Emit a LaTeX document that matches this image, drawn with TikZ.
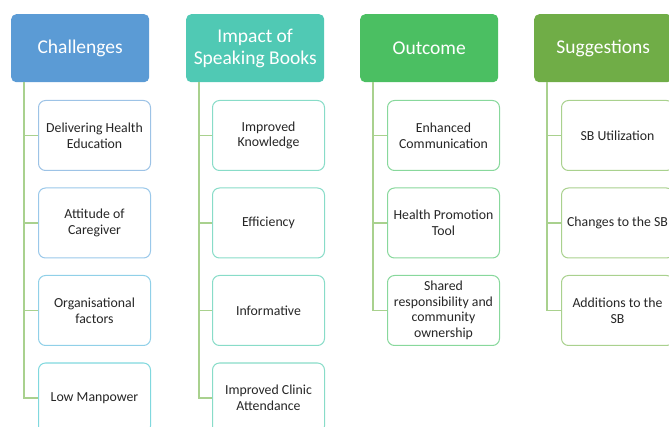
\documentclass[tikz,border=0pt]{standalone}
\usepackage{fontspec}
\setmainfont{Carlito}
\definecolor{hA}{HTML}{5B9BD5}
\definecolor{hB}{HTML}{50C9B4}
\definecolor{hC}{HTML}{4BBF62}
\definecolor{hD}{HTML}{70AD47}
\definecolor{bA1}{HTML}{9DC3E6}
\definecolor{bA2}{HTML}{9AC8EA}
\definecolor{bA3}{HTML}{90D0E8}
\definecolor{bA4}{HTML}{80D8DE}
\definecolor{bB}{HTML}{88DCC8}
\definecolor{bC}{HTML}{88D89C}
\definecolor{bD}{HTML}{A9D18E}
\definecolor{conn}{HTML}{A9D18E}
\definecolor{txt}{HTML}{262626}
\tikzset{
  head/.style={anchor=north west, minimum width=138pt, minimum height=68pt, inner sep=0pt,
    rounded corners=5pt, fill=#1, draw=none, text=white, align=center,
    font=\fontsize{19.5}{22}\selectfont},
  item/.style={anchor=north west, minimum width=112pt, minimum height=70pt, inner sep=0pt,
    rounded corners=7pt, fill=white, draw=#1, line width=1pt, text=txt, align=center,
    font=\fontsize{13.8}{15.6}\selectfont},
  link/.style={draw=conn, line width=1.4pt},
}
\begin{document}
\begin{tikzpicture}[x=1pt,y=-1pt]
\useasboundingbox (0,0) rectangle (669,427);
\clip (0,0) rectangle (669,427);
% column 1
\node[head=hA] (h1) at (11,14) {Challenges};
\node[item=bA1] (c11) at (38,100) {Delivering Health\\Education};
\node[item=bA2] (c12) at (38,187.5) {Attitude of\\Caregiver};
\node[item=bA3] (c13) at (38,275) {Organisational\\factors};
\node[item=bA4] (c14) at (38,362.5) {Low Manpower};
% column 2
\node[head=hB] (h2) at (186,14) {Impact of\\Speaking Books};
\node[item=bB] (c21) at (212,100) {Improved\\Knowledge};
\node[item=bB] (c22) at (212,187.5) {Efficiency};
\node[item=bB] (c23) at (212,275) {Informative};
\node[item=bB] (c24) at (212,362.5) {Improved Clinic\\Attendance};
% column 3
\node[head=hC] (h3) at (360,14) {Outcome};
\node[item=bC] (c31) at (387,100) {Enhanced\\Communication};
\node[item=bC] (c32) at (387,187.5) {Health Promotion\\Tool};
\node[item=bC] (c33) at (387,275) {Shared\\responsibility and\\community\\ownership};
% column 4
\node[head=hD] (h4) at (534,14) {Suggestions};
\node[item=bD] (c41) at (561,100) {SB Utilization};
\node[item=bD] (c42) at (561,187.5) {Changes to the SB};
\node[item=bD] (c43) at (561,275) {Additions to the\\SB};
% connectors
\foreach \h/\list in {h1/{c11,c12,c13,c14}, h2/{c21,c22,c23,c24}, h3/{c31,c32,c33}, h4/{c41,c42,c43}}{
  \foreach \c in \list {
    \draw[link] ([xshift=13pt]\h.south west) |- (\c.west);
  }
}
\end{tikzpicture}
\end{document}
